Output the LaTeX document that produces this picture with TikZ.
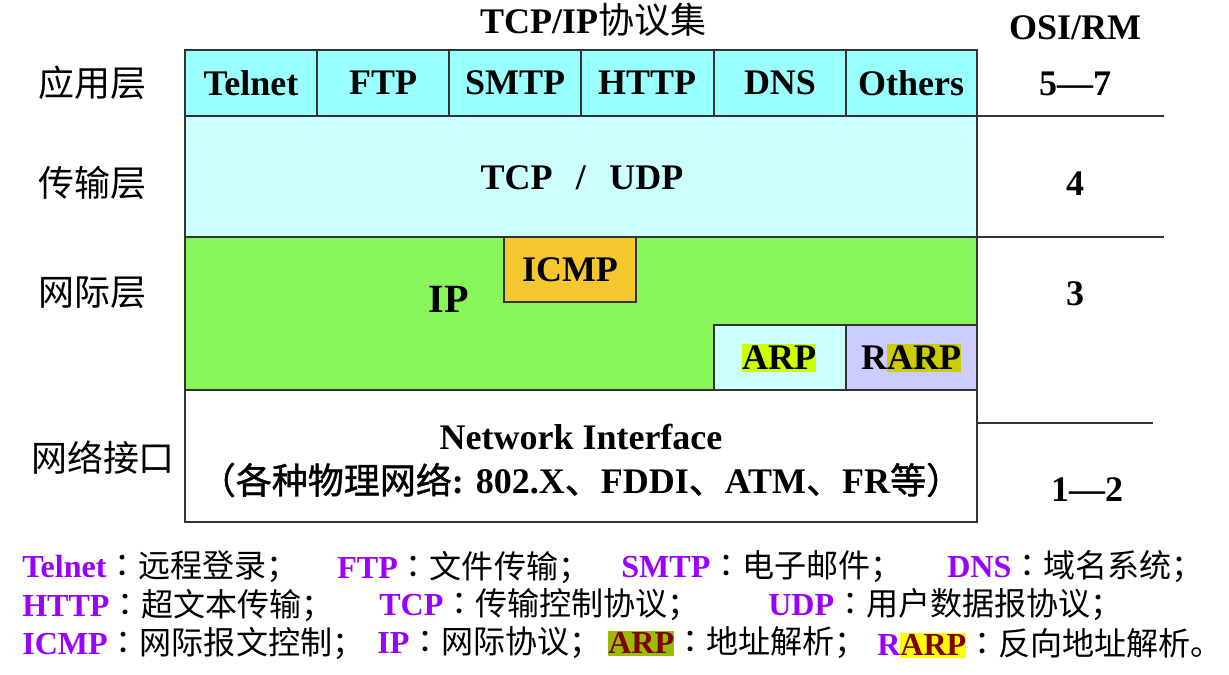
\documentclass[tikz,border=0pt]{standalone}
\usepackage{fontspec}
\usepackage{xcolor}
\setmainfont{Liberation Serif}
\newfontfamily\cjk{Noto Sans CJK SC}
\newfontfamily\cjkb[FakeBold=1.2]{Noto Sans CJK SC}
\newfontfamily\cjkp{Noto Sans CJK TC}
\newcommand*{\zh}[1]{{\cjk\mdseries #1}}
\newcommand*{\zhb}[1]{{\cjkb\mdseries #1}}
\newcommand*{\cl}{{\cjkp\mdseries ：}}
\definecolor{appc}{HTML}{99FFFF}
\definecolor{transc}{HTML}{CCFFFF}
\definecolor{ipc}{HTML}{88F55A}
\definecolor{icmpc}{HTML}{F5C72E}
\definecolor{rarpc}{HTML}{CCCCFF}
\definecolor{hlgreen}{HTML}{CCFF00}
\definecolor{hlolive}{HTML}{CCCC00}
\definecolor{hldark}{HTML}{99BB00}
\definecolor{hlyellow}{HTML}{FFFF00}
\definecolor{nmpurple}{HTML}{9900FF}
\definecolor{arpred}{HTML}{800000}
\newcommand*{\nm}[1]{\textcolor{nmpurple}{#1}}
\newcommand*{\hilite}[2]{{\setlength{\fboxsep}{0pt}\colorbox{#1}{\rule[-0.08em]{0pt}{0.78em}#2}}}

\begin{document}
\begin{tikzpicture}[x=0.025cm, y=-0.025cm,
  box/.style={draw=black!80, line width=1.2pt},
  big/.style={inner sep=0pt, font=\fontsize{25.6}{30}\selectfont\bfseries},
  layer/.style={inner sep=0pt, font=\fontsize{25.6}{30}\selectfont\cjk},
  note/.style={anchor=west, inner sep=0pt, font=\fontsize{22.8}{27}\selectfont\bfseries}]
\useasboundingbox (0,0) rectangle (1229,675);
\draw[box, fill=transc] (185,116) rectangle (977,237);
\draw[box, fill=ipc] (185,237) rectangle (977,390);
\draw[box, fill=white] (185,390) rectangle (977,522);
\draw[box, fill=appc] (185,50) rectangle (317,116);
\draw[box, fill=appc] (317,50) rectangle (449,116);
\draw[box, fill=appc] (449,50) rectangle (581,116);
\draw[box, fill=appc] (581,50) rectangle (714,116);
\draw[box, fill=appc] (714,50) rectangle (846,116);
\draw[box, fill=appc] (846,50) rectangle (977,116);
\draw[box, fill=icmpc] (504,237) rectangle (636,302);
\draw[box, fill=transc] (714,325) rectangle (846,390);
\draw[box, fill=rarpc] (846,325) rectangle (977,390);
\draw[black!80, line width=1.2pt] (977,116) -- (1164,116) (977,237) -- (1164,237) (977,423) -- (1153,423);
\node[big] (title) at (593,20) {TCP/IP\zh{协议集}};
\node[big] (telnet) at (251,83) {Telnet};
\node[big] (ftp) at (383,83) {FTP};
\node[big] (smtp) at (515,83) {SMTP};
\node[big] (http) at (647,83) {HTTP};
\node[big] (dns) at (780,83) {DNS};
\node[big] (others) at (911,83) {Others};
\node[big] (tcpudp) at (582,178) {TCP\hspace{0.65em}/\hspace{0.65em}UDP};
\node[big, font=\fontsize{28.5}{32}\selectfont\bfseries] (ip) at (449,299) {IP};
\node[big] (icmp) at (570,270) {ICMP};
\node[big] (arp) at (779,358) {\hilite{hlgreen}{ARP}};
\node[big] (rarp) at (911,358) {R\hilite{hlolive}{ARP}};
\node[big] (netif) at (581,437) {Network Interface};
\node[big] (netphy) at (581,480) {\zhb{（各种物理网络}: 802.X\zhb{、}FDDI\zhb{、}ATM\zhb{、}FR\zhb{等）}};
\node[layer] (lapp) at (92,83) {应用层};
\node[layer] (ltrans) at (92,183) {传输层};
\node[layer] (linet) at (92,293) {网际层};
\node[layer] (llink) at (103,458) {网络接口};
\node[big] (osi) at (1075,28) {OSI/RM};
\node[big] (osi57) at (1075,84) {5---7};
\node[big] (osi4) at (1075,184) {4};
\node[big] (osi3) at (1075,294) {3};
\node[big] (osi12) at (1087,490) {1---2};
\node[note] (dtelnet) at (22,567) {\nm{Telnet}\cl\zh{远程登录；}};
\node[note] (dftp) at (337,567) {\nm{FTP}\cl\zh{文件传输；}};
\node[note] (dsmtp) at (621,567) {\nm{SMTP}\cl\zh{电子邮件；}};
\node[note] (ddns) at (947,567) {\nm{DNS}\cl\zh{域名系统；}};
\node[note] (dhttp) at (22,605) {\nm{HTTP}\cl\zh{超文本传输；}};
\node[note] (dtcp) at (379,605) {\nm{TCP}\cl\zh{传输控制协议；}};
\node[note] (dudp) at (768,605) {\nm{UDP}\cl\zh{用户数据报协议；}};
\node[note] (dicmp) at (22,643) {\nm{ICMP}\cl\zh{网际报文控制；}};
\node[note] (dip) at (377,643) {\nm{IP}\cl\zh{网际协议；}};
\node[note] (darp) at (608,643) {\hilite{hldark}{\textcolor{arpred}{ARP}}\cl\zh{地址解析；}};
\node[note] (drarp) at (877,643) {\nm{R}\hilite{hlyellow}{\textcolor{arpred}{ARP}}\cl\zh{反向地址解析。}};
\end{tikzpicture}
\end{document}
